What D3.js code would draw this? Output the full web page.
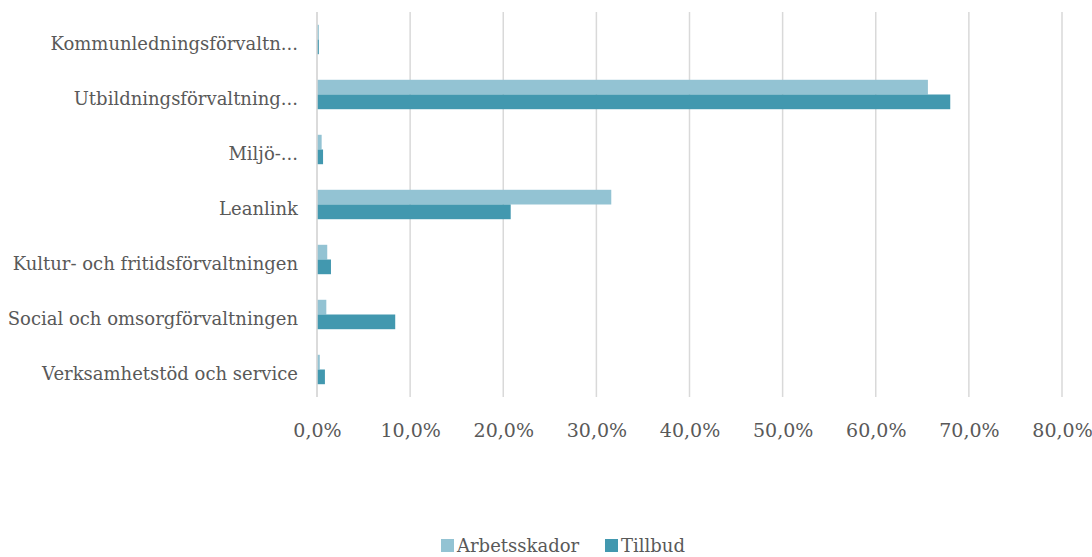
<!DOCTYPE html>
<html><head><meta charset="utf-8">
<script src="https://cdn.jsdelivr.net/npm/d3@7"></script>
<style>body{margin:0;background:#fff}svg{display:block}</style>
</head><body>
<svg id="c" width="1092" height="557"></svg>
<script>
const categories = ["Kommunledningsförvaltn...","Utbildningsförvaltning...","Miljö-...","Leanlink","Kultur- och fritidsförvaltningen","Social och omsorgförvaltningen","Verksamhetstöd och service"];
const seriesNames = ["Arbetsskador","Tillbud"];
const arbetsskador = [0.002,0.656,0.005,0.316,0.011,0.010,0.003];
const tillbud = [0.002,0.680,0.0065,0.208,0.015,0.084,0.0085];
const tickValues = [0,0.1,0.2,0.3,0.4,0.5,0.6,0.7,0.8];
const colors = ["#93C3D3","#4298AF"];

(function(){
const svg = d3.select("#c");
const font = "'DejaVu Serif', 'Liberation Serif', serif";
const textColor = "#595959";
const mLeft = 317, mRight = 1062, mTop = 12, mBottom = 397;

const x = d3.scaleLinear().domain([0,0.8]).range([mLeft,mRight]);
const y = d3.scaleBand().domain(categories).range([mTop,mBottom]).paddingInner(0.465).paddingOuter(0.2325);
const y1 = d3.scaleBand().domain(seriesNames).range([0,y.bandwidth()]);

svg.append("g").selectAll("line").data(tickValues).join("line")
  .attr("x1",d=>x(d)).attr("x2",d=>x(d)).attr("y1",mTop).attr("y2",mBottom)
  .attr("stroke","#D9D9D9").attr("stroke-width",1.5);

const data = categories.map((c,i)=>({c, vals:[arbetsskador[i],tillbud[i]]}));
const g = svg.append("g").selectAll("g").data(data).join("g")
  .attr("transform",d=>`translate(0,${y(d.c)})`);
g.selectAll("rect").data(d=>d.vals.map((v,j)=>({v,s:seriesNames[j],j}))).join("rect")
  .attr("x",x(0)).attr("y",d=>y1(d.s)).attr("height",y1.bandwidth())
  .attr("width",d=>x(d.v)-x(0)).attr("fill",d=>colors[d.j]);

svg.append("line").attr("x1",x(0)).attr("x2",x(0)).attr("y1",mTop).attr("y2",mBottom)
  .attr("stroke","#D9D9D9").attr("stroke-width",1.5);

const fmt = d=>d3.format(".1f")(d*100).replace(".",",")+"%";
const xAxis = d3.axisBottom(x).tickValues(tickValues).tickFormat(fmt).tickSize(0).tickPadding(0);
const xa = svg.append("g").attr("transform",`translate(0,${mBottom})`).call(xAxis);
xa.select(".domain").remove();
xa.selectAll("text").attr("y",40).attr("dy",0).attr("fill",textColor)
  .style("font-family",font).style("font-size","19px");

const yAxis = d3.axisLeft(y).tickSize(0).tickPadding(0);
const ya = svg.append("g").attr("transform",`translate(298,0)`).call(yAxis);
ya.select(".domain").remove();
ya.selectAll("text").attr("dy","0.62em").attr("y",-1).attr("fill",textColor)
  .style("font-family",font).style("font-size","18px");

const legX = [441,605];
const lg = svg.append("g").selectAll("g").data(seriesNames).join("g")
  .attr("transform",(d,i)=>`translate(${legX[i]},539)`);
lg.append("rect").attr("width",13).attr("height",13).attr("fill",(d,i)=>colors[i]);
lg.append("text").attr("x",16).attr("y",13).text(d=>d).attr("fill",textColor)
  .style("font-family",font).style("font-size","18px");
})();
</script>
</body></html>
